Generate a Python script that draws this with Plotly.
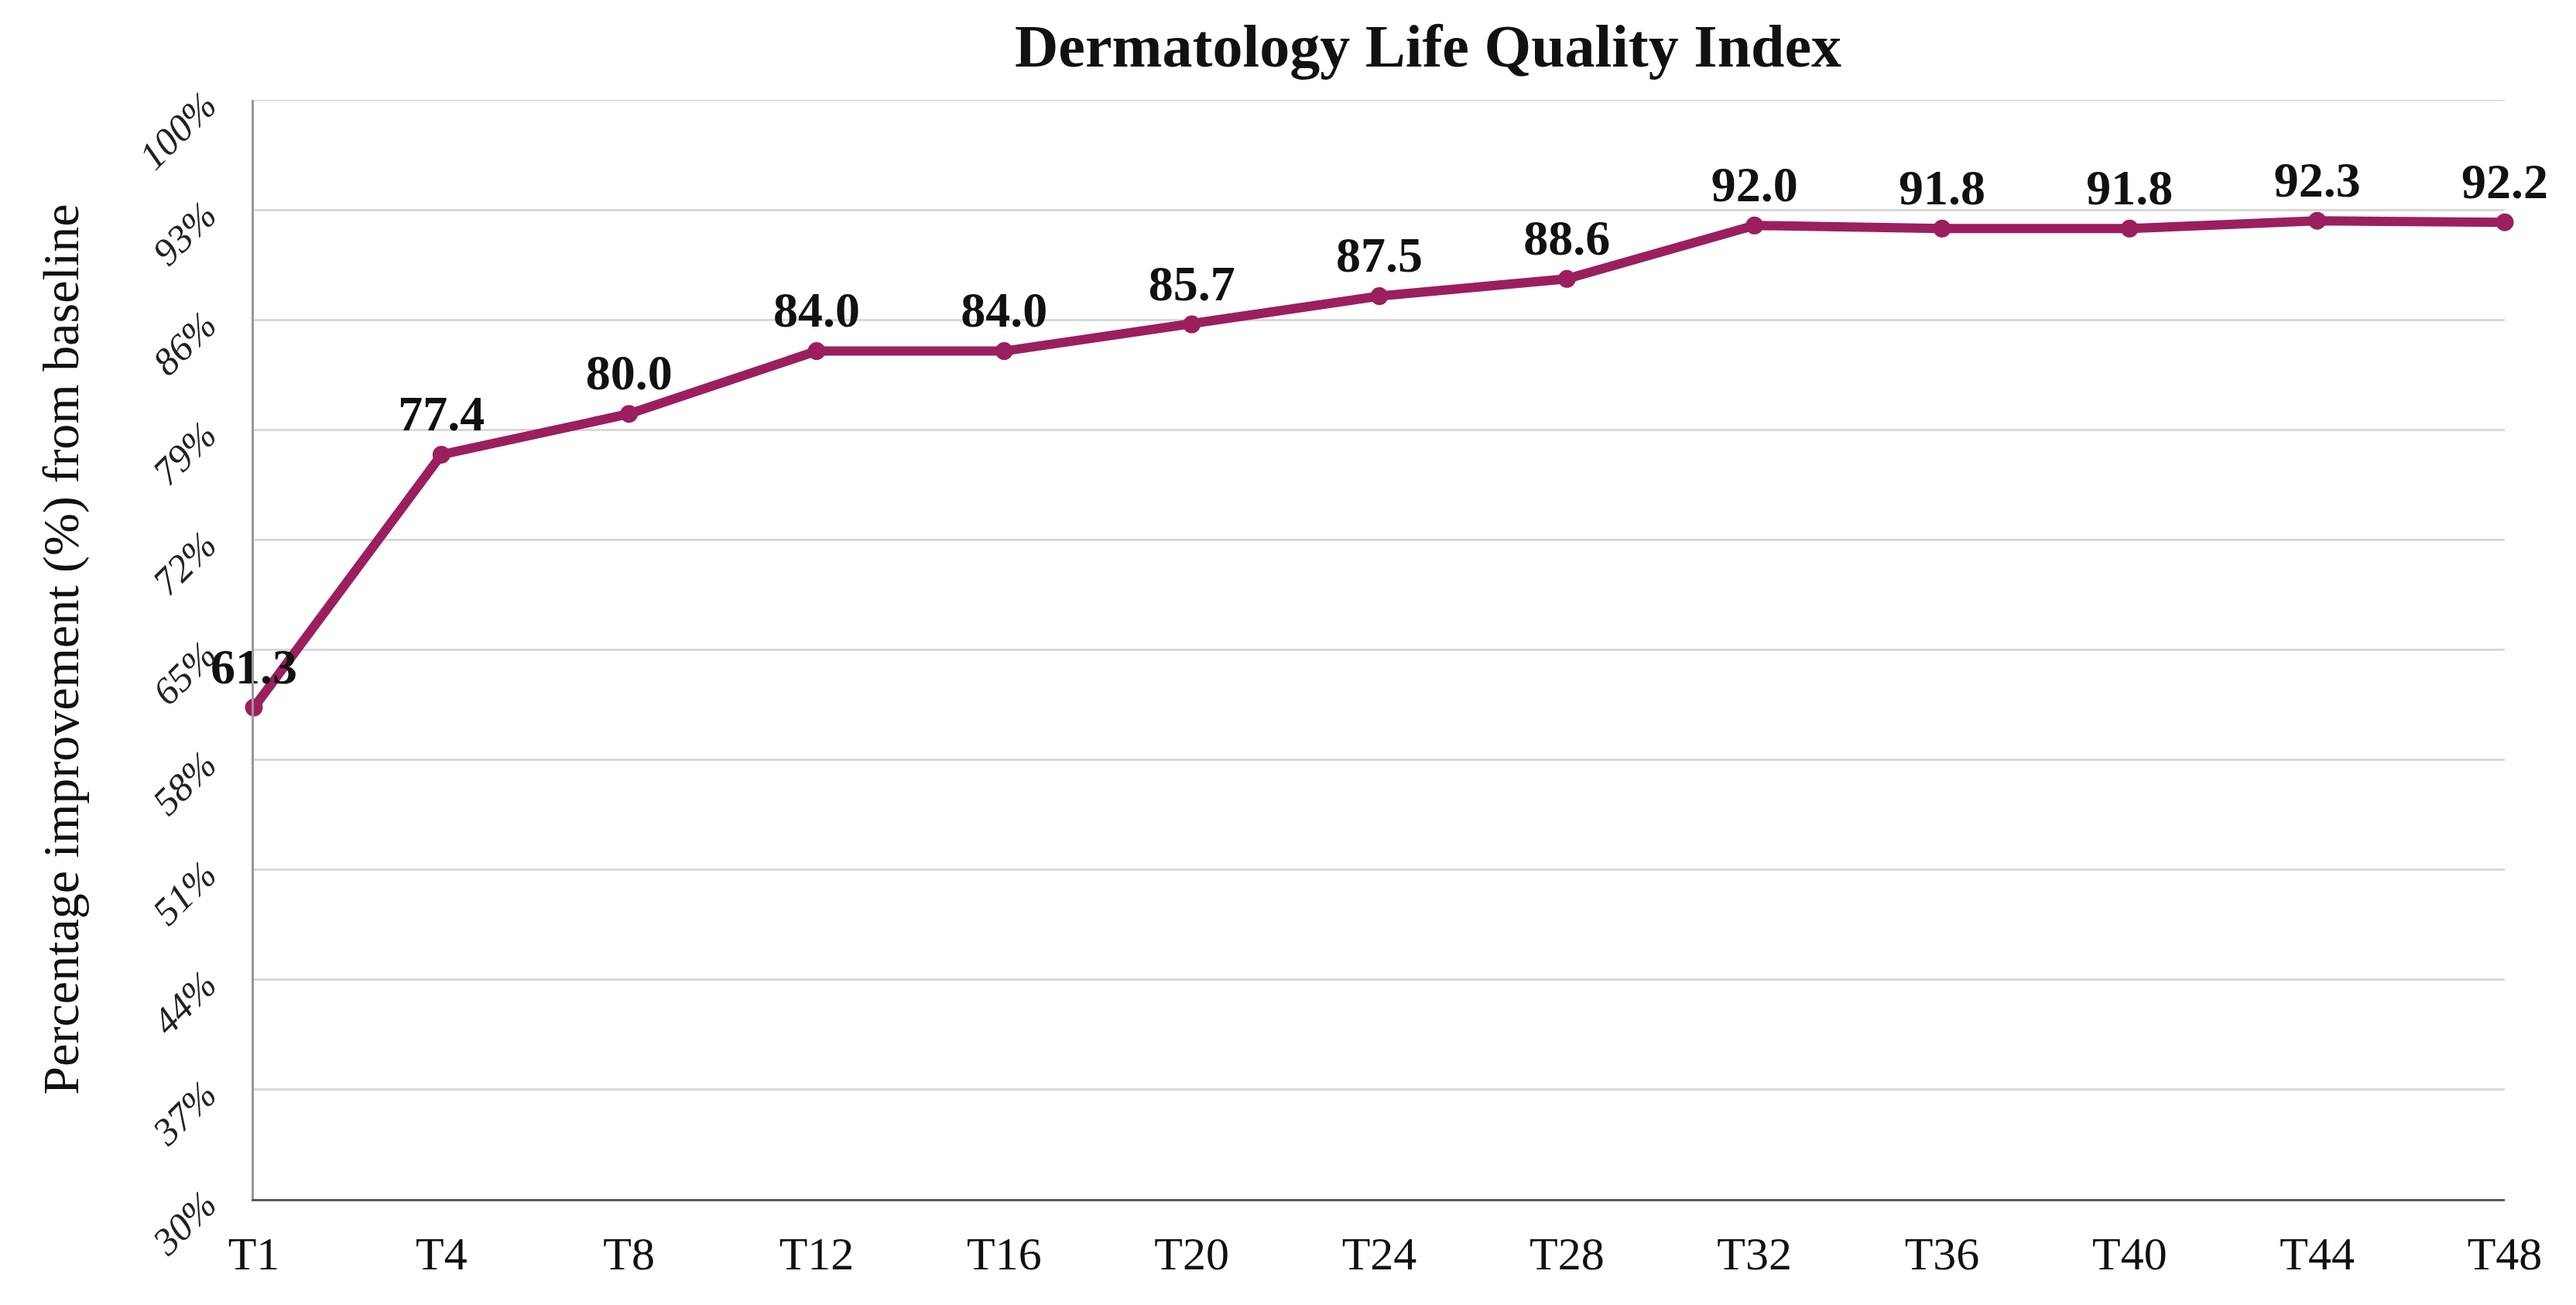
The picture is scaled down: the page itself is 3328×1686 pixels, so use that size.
import plotly.graph_objects as go

categories = ["T1", "T4", "T8", "T12", "T16", "T20", "T24", "T28", "T32", "T36", "T40", "T44", "T48"]
values = [61.3, 77.4, 80.0, 84.0, 84.0, 85.7, 87.5, 88.6, 92.0, 91.8, 91.8, 92.3, 92.2]
y_ticks = [30, 37, 44, 51, 58, 65, 72, 79, 86, 93, 100]
y_tick_labels = [f"{v}%" for v in y_ticks]

COLOR = "#9B1F5E"
FONT = "Liberation Serif"
Y_MIN, Y_MAX = y_ticks[0], y_ticks[-1]

fig = go.Figure()
fig.add_trace(go.Scatter(
    x=list(range(len(categories))),
    y=values,
    mode="lines+markers+text",
    line=dict(color=COLOR, width=12),
    marker=dict(color=COLOR, size=23),
    text=[f"{v:.1f}" for v in values],
    textposition="top center",
    textfont=dict(family=FONT, size=64, color="#111111", weight="bold"),
    cliponaxis=False,
    showlegend=False,
))

# top gridline at the upper edge of the range
fig.add_shape(type="line", xref="paper", yref="y", x0=0, x1=1, y0=Y_MAX, y1=Y_MAX,
              line=dict(color="#d9d9d9", width=3), layer="below")

fig.update_layout(
    width=3328, height=1686,
    margin=dict(l=320, r=100, t=121, b=145),
    paper_bgcolor="white", plot_bgcolor="white",
    font=dict(family=FONT, color="#111111"),
    title=dict(
        text="<b>Dermatology Life Quality Index</b>",
        x=0.552, xanchor="center", y=0.97, yanchor="middle",
        font=dict(family=FONT, size=78, color="#111111"),
    ),
    xaxis=dict(
        range=[0, len(categories) - 1],
        tickmode="array",
        tickvals=list(range(len(categories))),
        ticktext=categories,
        tickfont=dict(family=FONT, size=60, color="#111111"),
        showgrid=False,
        showline=True, linecolor="#595959", linewidth=3,
        ticks="outside", ticklen=16, tickcolor="rgba(0,0,0,0)",
        zeroline=False,
    ),
    yaxis=dict(
        range=[Y_MIN, Y_MAX],
        tickmode="array",
        tickvals=y_ticks,
        ticktext=[f"<i>{t}</i>" for t in y_tick_labels],
        tickangle=-45,
        tickfont=dict(family=FONT, size=50, color="#222222"),
        showgrid=True, gridcolor="#d9d9d9", gridwidth=3,
        showline=True, linecolor="#999999", linewidth=3,
        ticks="outside", ticklen=50, tickcolor="rgba(0,0,0,0)",
        zeroline=False,
        title=dict(
            text="Percentage improvement (%) from baseline",
            font=dict(family=FONT, size=66, color="#111111"),
            standoff=46,
        ),
    ),
)

fig.write_html("out.html")
